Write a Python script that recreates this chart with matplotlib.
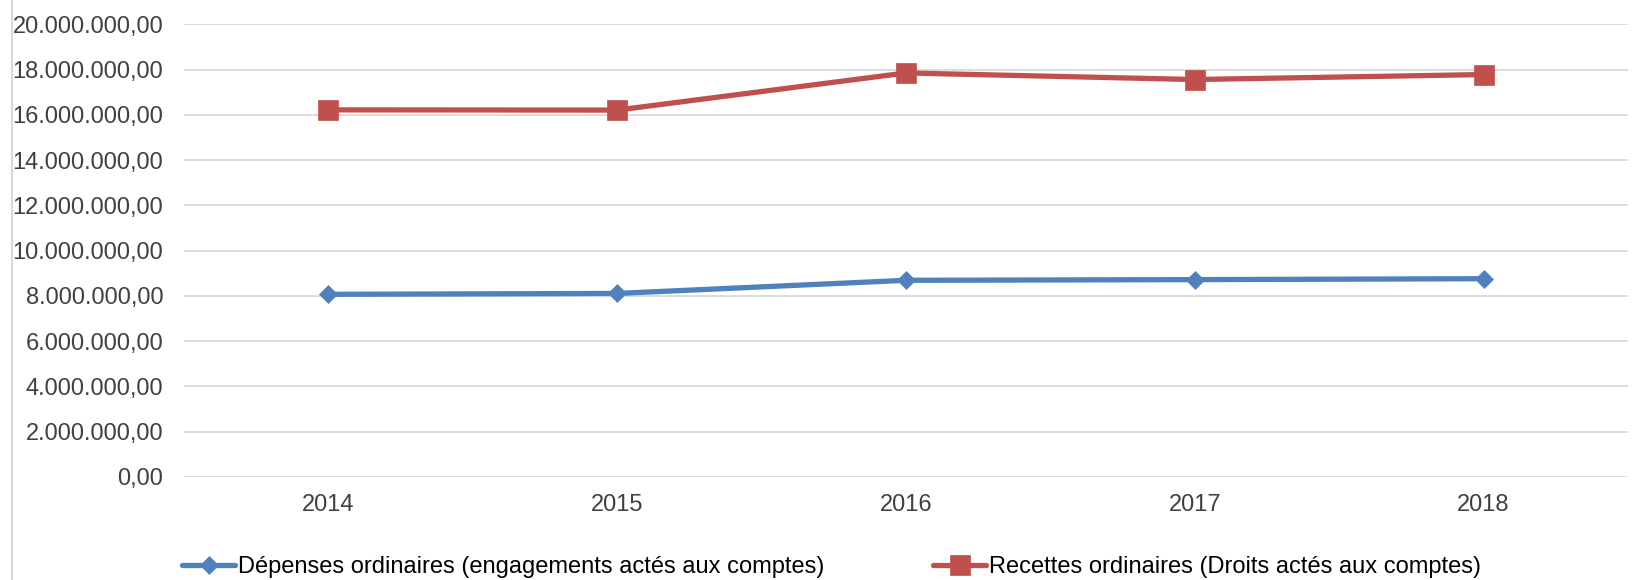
import matplotlib
matplotlib.use("Agg")
import matplotlib.pyplot as plt
from matplotlib.ticker import FuncFormatter, MultipleLocator
from matplotlib.lines import Line2D

years = ["2014", "2015", "2016", "2017", "2018"]
depenses = [8070000, 8110000, 8690000, 8720000, 8760000]
recettes = [16220000, 16210000, 17850000, 17560000, 17780000]
label_dep = "Dépenses ordinaires (engagements actés aux comptes)"
label_rec = "Recettes ordinaires (Droits actés aux comptes)"

plt.rcParams['font.family'] = ['Liberation Sans', 'DejaVu Sans']

W, H = 1641, 580
fig = plt.figure(figsize=(W / 100, H / 100), dpi=100)
ax = fig.add_axes([184 / W, 1 - 477 / H, (1628 - 184) / W, (477 - 24.3) / H])

x = list(range(len(years)))
blue = "#4F81BD"
red = "#C0504D"
ax.plot(x, depenses, color=blue, lw=3.8, marker="D", ms=9.6, mec=blue, mew=0.5,
        label=label_dep, solid_capstyle="round", zorder=3)
ax.plot(x, recettes, color=red, lw=3.8, marker="s", ms=13.8, mec=red, mew=0.5,
        label=label_rec, solid_capstyle="round", zorder=3)

ax.set_xlim(-0.5, len(years) - 0.5)
ax.set_ylim(0, 20000000)
ax.yaxis.set_major_locator(MultipleLocator(2000000))


def fmt(v, pos):
    s = f"{v:,.2f}"
    return s.replace(",", "X").replace(".", ",").replace("X", ".")


ax.yaxis.set_major_formatter(FuncFormatter(fmt))
ax.set_xticks(x)
ax.set_xticklabels(years)
ax.grid(axis="y", color="#d9d9d9", lw=1.3, zorder=0)
ax.set_axisbelow(True)
for sp in ax.spines.values():
    sp.set_visible(False)
ax.tick_params(axis="both", length=0, labelsize=17, colors="#404040")
ax.tick_params(axis="y", pad=15)
ax.tick_params(axis="x", pad=12)

fig.add_artist(Line2D([12 / W, 12 / W], [0, 1], color="#d9d9d9", lw=1.5))

leg = fig.legend(loc="center left", bbox_to_anchor=(182 / W, 1 - 567 / H),
                 ncol=2, frameon=False, fontsize=17, borderpad=0, borderaxespad=0,
                 handlelength=2.25, handletextpad=0.13, columnspacing=4.6)
for t in leg.get_texts():
    t.set_color("#000000")

fig.savefig("out.png", dpi=100, facecolor="white")
